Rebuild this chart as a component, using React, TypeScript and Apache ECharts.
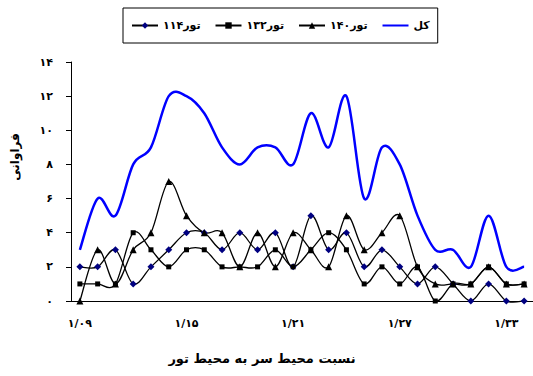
import React, { useEffect, useRef } from "react";
import * as echarts from "echarts";

const categories = [
  "۱/۰۹", "۱/۱۰", "۱/۱۱", "۱/۱۲", "۱/۱۳", "۱/۱۴", "۱/۱۵", "۱/۱۶", "۱/۱۷",
  "۱/۱۸", "۱/۱۹", "۱/۲۰", "۱/۲۱", "۱/۲۲", "۱/۲۳", "۱/۲۴", "۱/۲۵", "۱/۲۶",
  "۱/۲۷", "۱/۲۸", "۱/۲۹", "۱/۳۰", "۱/۳۱", "۱/۳۲", "۱/۳۳", "۱/۳۴",
];
const seriesNames = ["تور۱۱۴", "تور۱۳۲", "تور۱۴۰", "کل"];
const net114 = [2, 2, 3, 1, 2, 3, 4, 4, 3, 4, 3, 4, 2, 5, 3, 4, 2, 3, 2, 1, 2, 1, 0, 1, 0, 0];
const net132 = [1, 1, 1, 4, 3, 2, 3, 3, 2, 2, 2, 3, 2, 3, 4, 3, 1, 2, 1, 2, 0, 1, 1, 2, 1, 1];
const net140 = [0, 3, 1, 3, 4, 7, 5, 4, 4, 2, 4, 2, 4, 3, 2, 5, 3, 4, 5, 2, 1, 1, 1, 2, 1, 1];
const total = [3, 6, 5, 8, 9, 12, 12, 11, 9, 8, 9, 9, 8, 11, 9, 12, 6, 9, 8, 5, 3, 3, 2, 5, 2, 2];
const yTickLabels = ["۰", "۲", "۴", "۶", "۸", "۱۰", "۱۲", "۱۴"];
const xTitle = "نسبت محیط سر به محیط تور";
const yTitle = "فراوانی";

const FONT = "DejaVu Sans";

// Catmull-Rom style smoothed curve (like a spreadsheet's smoothed line) through
// points mapped by the chart's own coordinate system.
function curveSeries(values: number[], color: string, width: number, z: number) {
  return {
    type: "custom",
    name: "curve",
    silent: true,
    z,
    data: values.map((v, i) => [i, v]),
    encode: { x: 0, y: 1 },
    renderItem: (params: any, api: any) => {
      if (params.dataIndex !== 0) return null;
      const pts = values.map((v, i) => api.coord([i, v]));
      const n = pts.length;
      let d = `M${pts[0][0]},${pts[0][1]}`;
      for (let i = 0; i < n - 1; i++) {
        const p0 = pts[Math.max(0, i - 1)];
        const p1 = pts[i];
        const p2 = pts[i + 1];
        const p3 = pts[Math.min(n - 1, i + 2)];
        const c1x = p1[0] + (p2[0] - p0[0]) / 6;
        const c1y = p1[1] + (p2[1] - p0[1]) / 6;
        const c2x = p2[0] - (p3[0] - p1[0]) / 6;
        const c2y = p2[1] - (p3[1] - p1[1]) / 6;
        d += ` C${c1x},${c1y} ${c2x},${c2y} ${p2[0]},${p2[1]}`;
      }
      return {
        type: "path",
        shape: { pathData: d },
        style: { fill: "none", stroke: color, lineWidth: width },
      };
    },
  };
}

export default function App() {
  const ref = useRef<HTMLDivElement>(null);
  useEffect(() => {
    document.body.style.margin = "0";
    const chart = echarts.init(ref.current!, null, { renderer: "svg" });
    const markerSeries = (name: string, data: number[], symbol: string, size: number, color: string) => ({
      name,
      type: "line",
      data,
      symbol,
      symbolSize: size,
      showSymbol: true,
      z: 5,
      lineStyle: { color: "#000", width: 1.3, opacity: 0 },
      itemStyle: { color, borderWidth: 0 },
    });
    chart.setOption({
      animation: false,
      backgroundColor: "#fff",
      textStyle: { fontFamily: FONT },
      legend: {
        data: [
          { name: seriesNames[0], lineStyle: { opacity: 1 } },
          { name: seriesNames[1], lineStyle: { opacity: 1 } },
          { name: seriesNames[2], lineStyle: { opacity: 1 } },
          { name: seriesNames[3], lineStyle: { opacity: 1 }, itemStyle: { opacity: 0 } },
        ],
        left: 123,
        top: 8,
        padding: [12, 8, 12, 8],
        borderColor: "#000",
        borderWidth: 1,
        itemGap: 14,
        itemWidth: 26,
        itemHeight: 8,
        textStyle: { fontFamily: FONT, fontWeight: "bold", fontSize: 11, color: "#000" },
      },
      grid: { left: 71, top: 62, width: 466, bottom: 75 },
      xAxis: {
        type: "category",
        data: categories,
        boundaryGap: true,
        axisLine: { lineStyle: { color: "#000", width: 1 } },
        axisTick: { interval: 0, length: 5, lineStyle: { color: "#000" } },
        axisLabel: {
          interval: 5,
          margin: 17,
          fontFamily: FONT,
          fontWeight: "bold",
          fontSize: 11,
          color: "#000",
        },
        splitLine: { show: false },
      },
      yAxis: {
        type: "value",
        min: 0,
        max: 14,
        interval: 2,
        axisLine: { show: true, lineStyle: { color: "#000", width: 1 } },
        axisTick: { show: true, length: 5, lineStyle: { color: "#000" } },
        axisLabel: {
          margin: 18,
          fontFamily: FONT,
          fontWeight: "bold",
          fontSize: 11,
          color: "#000",
          formatter: (v: number) => yTickLabels[Math.round(v / 2)] ?? "",
        },
        splitLine: { show: false },
      },
      graphic: [
        {
          type: "text",
          x: 262,
          y: 358,
          style: {
            text: xTitle,
            font: `bold 13px "${FONT}"`,
            fill: "#000",
            textAlign: "center",
            textVerticalAlign: "middle",
          },
        },
        {
          type: "text",
          x: 15,
          y: 157,
          rotation: Math.PI / 2,
          style: {
            text: yTitle,
            font: `bold 12px "${FONT}"`,
            fill: "#000",
            textAlign: "center",
            textVerticalAlign: "middle",
          },
        },
      ],
      series: [
        markerSeries(seriesNames[0], net114, "diamond", 7, "#000080"),
        markerSeries(seriesNames[1], net132, "rect", 5, "#000"),
        markerSeries(seriesNames[2], net140, "triangle", 7, "#000"),
        {
          name: seriesNames[3],
          type: "line",
          data: total,
          symbol: "none",
          z: 5,
          lineStyle: { color: "#0000ff", width: 2.5, opacity: 0 },
          itemStyle: { color: "#0000ff" },
        },
        curveSeries(total, "#0000ff", 2.5, 2),
        curveSeries(net114, "#000", 1.3, 3),
        curveSeries(net132, "#000", 1.3, 3),
        curveSeries(net140, "#000", 1.3, 3),
      ],
    });
    return () => chart.dispose();
  }, []);
  return <div ref={ref} style={{ width: 533, height: 376 }} />;
}
